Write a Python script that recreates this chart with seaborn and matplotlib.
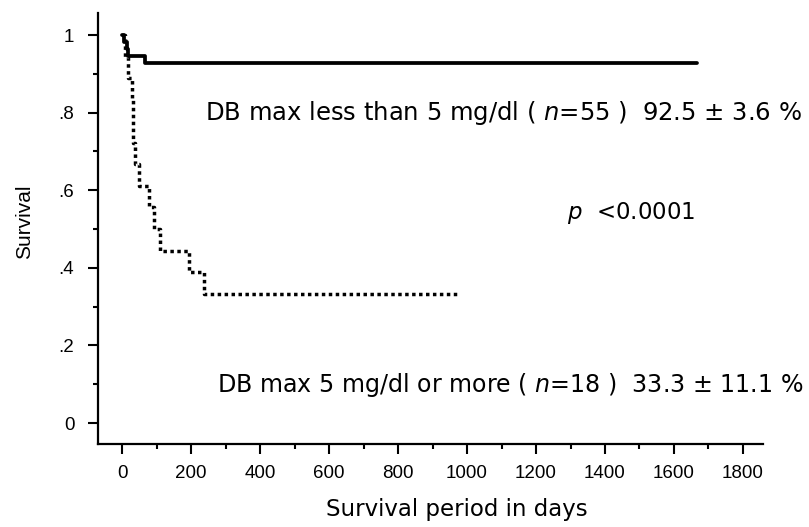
import numpy as np
import pandas as pd
import matplotlib
matplotlib.use("Agg")
import matplotlib.pyplot as plt
import seaborn as sns
from matplotlib.ticker import MultipleLocator, FixedLocator, FixedFormatter

# ---- data ----
days_low = [0, 5, 15, 18, 67, 1667]
surv_low = [1.0, 0.982, 0.964, 0.945, 0.927, 0.927]

days_high = [0, 9, 17, 28, 31, 33, 38, 50, 79, 91, 110, 195, 236, 980]
surv_high = [1.0, 0.944, 0.889, 0.833, 0.778, 0.722, 0.667, 0.611, 0.556,
             0.500, 0.444, 0.389, 0.333, 0.333]

x_ticks = [0, 200, 400, 600, 800, 1000, 1200, 1400, 1600, 1800]
x_ticklabels = ["0", "200", "400", "600", "800", "1000", "1200", "1400", "1600", "1800"]
y_ticks = [0, 0.2, 0.4, 0.6, 0.8, 1.0]
y_ticklabels = ["0", ".2", ".4", ".6", ".8", "1"]

label_low = "DB max less than 5 mg/dl ( $n$=55 )  92.5 \u00b1 3.6 %"
label_high = "DB max 5 mg/dl or more ( $n$=18 )  33.3 \u00b1 11.1 %"
label_p = "$p$  <0.0001"

df_low = pd.DataFrame({"day": days_low, "surv": surv_low})
df_high = pd.DataFrame({"day": days_high, "surv": surv_high})

sns.set_theme(style="white")
plt.rcParams["font.family"] = ["DejaVu Sans"]
plt.rcParams["mathtext.fontset"] = "dejavusans"
plt.rcParams["xtick.labelsize"] = 13.5
plt.rcParams["ytick.labelsize"] = 13.5

fig = plt.figure(figsize=(8.09, 5.27), dpi=100)
ax = fig.add_axes([0.1211, 0.1575, 0.822, 0.818])

sns.lineplot(data=df_high, x="day", y="surv", ax=ax, color="black",
             drawstyle="steps-post", estimator=None, sort=False,
             linewidth=2.5, dashes=(1, 1))
sns.lineplot(data=df_low, x="day", y="surv", ax=ax, color="black",
             drawstyle="steps-post", estimator=None, sort=False,
             linewidth=2.7)

ax.set_xlim(-70, 1858)
ax.set_ylim(-0.054, 1.057)

for s in ["top", "right"]:
    ax.spines[s].set_visible(False)
for s in ["left", "bottom"]:
    ax.spines[s].set_color("black")
    ax.spines[s].set_linewidth(1.6)

ax.xaxis.set_major_locator(FixedLocator(x_ticks))
ax.xaxis.set_major_formatter(FixedFormatter(x_ticklabels))
ax.xaxis.set_minor_locator(MultipleLocator(100))
ax.yaxis.set_major_locator(FixedLocator(y_ticks))
ax.yaxis.set_major_formatter(FixedFormatter(y_ticklabels))
ax.yaxis.set_minor_locator(MultipleLocator(0.1))
ax.tick_params(which="major", direction="out", length=7, width=1.5,
               color="black", bottom=True, left=True, labelsize=13.5,
               labelcolor="black", labelfontfamily="Liberation Sans")
ax.tick_params(axis="x", which="major", pad=8)
ax.tick_params(axis="y", which="major", pad=10)
ax.tick_params(which="minor", direction="out", length=3.5, width=1.5,
               color="black", bottom=True, left=True)

ax.set_xlabel("Survival period in days", fontsize=16.5, color="black", va="center")
ax.xaxis.set_label_coords(0.54, -0.153)
ax.set_ylabel("Survival", fontsize=15, color="black", va="center",
              family="Liberation Sans")
ax.yaxis.set_label_coords(-0.111, 0.515)

ax.text(240, 0.80, label_low, fontsize=17.5, color="black", va="center", ha="left")
ax.text(275, 0.098, label_high, fontsize=17.1, color="black", va="center", ha="left")
ax.text(1290, 0.541, label_p, fontsize=16.5, color="black", va="center", ha="left")

fig.savefig("out.png", dpi=100, facecolor="white")
